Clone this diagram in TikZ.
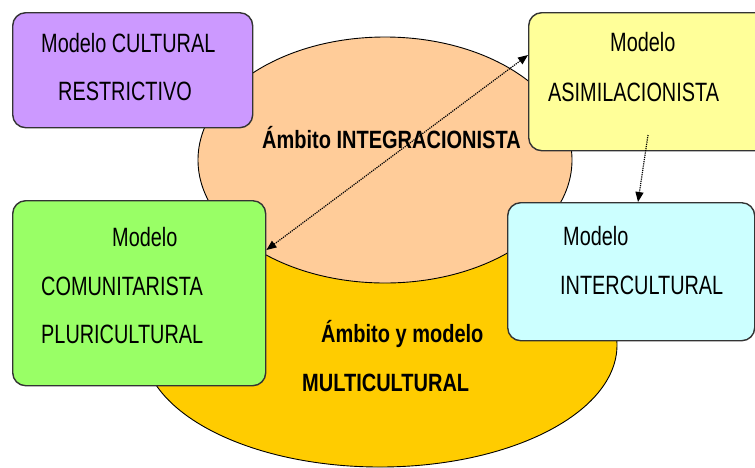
\documentclass[tikz,border=0pt]{standalone}
\usepackage{fontspec}
\setmainfont{Liberation Sans}[FakeStretch=0.75]
\newfontfamily\boldnarrow{Liberation Sans}[FakeStretch=0.8]
\usetikzlibrary{shapes.geometric,arrows.meta}
\definecolor{peach}{HTML}{FFCC99}
\definecolor{gold}{HTML}{FFCC00}
\definecolor{lilac}{HTML}{CC99FF}
\definecolor{lgreen}{HTML}{99FF66}
\definecolor{lyellow}{HTML}{FFFF99}
\definecolor{lcyan}{HTML}{CCFFFF}
\definecolor{edge}{HTML}{333333}
\begin{document}
\begin{tikzpicture}[x=1pt,y=-1pt,
  area/.style={ellipse, draw=black, line width=0.9pt, inner sep=0pt},
  modelbox/.style={draw=edge, line width=1.4pt, rounded corners=13pt, anchor=north west, inner sep=0pt},
  boxtext/.style={anchor=base west, inner sep=0pt, font=\fontsize{26.5}{30}\selectfont},
  areatext/.style={anchor=base west, inner sep=0pt, font=\boldnarrow\bfseries\fontsize{25}{29}\selectfont},
  link/.style={densely dotted, line width=1.2pt, {Triangle[length=10pt,width=8pt]}-{Triangle[length=10pt,width=8pt]}},
  onelink/.style={densely dotted, line width=1.2pt, -{Triangle[length=10pt,width=8pt]}}]
\useasboundingbox (0,0) rectangle (755,467);
\clip (0,0) rectangle (755,467);
% areas
\node[area, fill=gold, minimum width=474pt, minimum height=244pt] (multi) at (380,345) {};
\node[area, fill=peach, minimum width=374pt, minimum height=246pt] (integ) at (385,160) {};
\node[areatext] (integtxt) at (262,148) {Ámbito INTEGRACIONISTA};
\node[areatext] (multitxt1) at (321,342) {Ámbito y modelo};
\node[areatext] (multitxt2) at (302,391) {MULTICULTURAL};
% boxes
\node[modelbox, fill=lilac, minimum width=240pt, minimum height=115pt] (restr) at (12,12) {};
\node[modelbox, fill=lgreen, minimum width=253pt, minimum height=185pt] (comun) at (12,200) {};
\node[modelbox, fill=lyellow, minimum width=240pt, minimum height=138pt] (asim) at (528,12) {};
\node[modelbox, fill=lcyan, minimum width=247pt, minimum height=138pt] (inter) at (507,202) {};
% box texts
\node[boxtext] (restr1) at (41,52.5) {Modelo CULTURAL};
\node[boxtext] (restr2) at (58,100.5) {RESTRICTIVO};
\node[boxtext] (comun1) at (112,246.5) {Modelo};
\node[boxtext] (comun2) at (41,295.5) {COMUNITARISTA};
\node[boxtext] (comun3) at (41,343.5) {PLURICULTURAL};
\node[boxtext] (asim1) at (610,51.5) {Modelo};
\node[boxtext] (asim2) at (548,101.5) {ASIMILACIONISTA};
\node[boxtext] (inter1) at (563,245.5) {Modelo};
\node[boxtext] (inter2) at (560,294.5) {INTERCULTURAL};
% connectors
\coordinate (c1) at ([yshift=-50pt]comun.north east);
\coordinate (a1) at ([yshift=-43pt]asim.north west);
\draw[link] (c1) -- (a1);
\coordinate (a2) at (648,135);
\coordinate (i2) at ([xshift=131pt]inter.north west);
\draw[onelink] (a2) -- (i2);
\end{tikzpicture}
\end{document}
